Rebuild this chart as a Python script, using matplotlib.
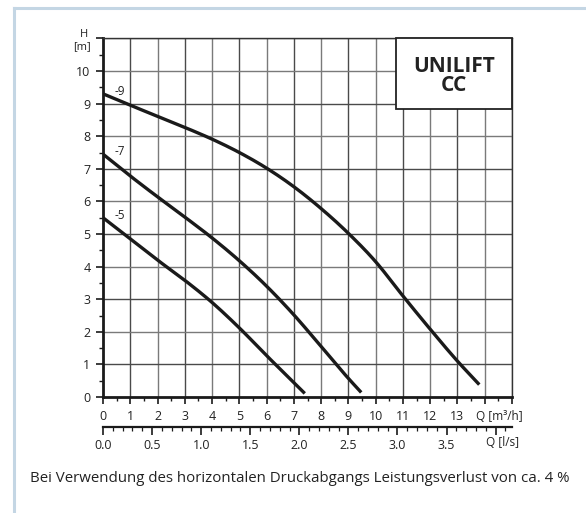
import matplotlib
matplotlib.use("Agg")
import matplotlib.pyplot as plt
from matplotlib.lines import Line2D
from matplotlib.patches import Rectangle
import numpy as np

plt.rcParams['font.family'] = ['Open Sans', 'DejaVu Sans']

# Data (Q in m3/h, H in m)
q_9 = [0, 1, 2, 3, 4, 5, 6, 7, 8, 9, 10, 11, 12, 13, 13.8]
h_9 = [9.3, 8.95, 8.61, 8.27, 7.91, 7.5, 7.02, 6.45, 5.78, 5.02, 4.15, 3.1, 2.08, 1.1, 0.38]
q_7 = [0, 1, 2, 3, 4, 5, 6, 7, 8, 9, 9.47]
h_7 = [7.45, 6.78, 6.14, 5.52, 4.88, 4.18, 3.4, 2.52, 1.55, 0.57, 0.14]
q_5 = [0, 1, 2, 3, 4, 5, 6, 7, 7.4]
h_5 = [5.5, 4.85, 4.2, 3.58, 2.9, 2.12, 1.27, 0.44, 0.11]
curves = [("-9", q_9, h_9), ("-7", q_7, h_7), ("-5", q_5, h_5)]

x_ticks = list(range(0, 16))
x_ticklabels = [str(i) for i in range(0, 14)] + ["", ""]
y_ticks = list(range(0, 12))
y_ticklabels = [str(i) for i in range(0, 11)] + [""]
ls_ticks = [0.0, 0.5, 1.0, 1.5, 2.0, 2.5, 3.0, 3.5, 4.0]
ls_ticklabels = ["0.0", "0.5", "1.0", "1.5", "2.0", "2.5", "3.0", "3.5", ""]

title = "UNILIFT\nCC"
footer = "Bei Verwendung des horizontalen Druckabgangs Leistungsverlust von ca. 4 %"


def smooth(x, y, n=20):
    """Cubic Hermite curve through the read points (for drawing only)."""
    x = np.asarray(x, float)
    y = np.asarray(y, float)
    d = np.diff(y) / np.diff(x)
    m = np.empty_like(y)
    m[0], m[-1] = d[0], d[-1]
    hx = np.diff(x)
    m[1:-1] = (d[:-1] * hx[1:] + d[1:] * hx[:-1]) / (hx[:-1] + hx[1:])
    xs, ys = [], []
    for i in range(len(x) - 1):
        t = np.linspace(0, 1, n, endpoint=False)
        h = hx[i]
        h00 = 2 * t**3 - 3 * t**2 + 1
        h10 = t**3 - 2 * t**2 + t
        h01 = -2 * t**3 + 3 * t**2
        h11 = t**3 - t**2
        xs.append(x[i] + t * h)
        ys.append(h00 * y[i] + h10 * h * m[i] + h01 * y[i + 1] + h11 * h * m[i + 1])
    xs.append([x[-1]])
    ys.append([y[-1]])
    return np.concatenate(xs), np.concatenate(ys)


W, H = 586, 513
fig = plt.figure(figsize=(W / 100, H / 100), dpi=100)

# light frame
fig.add_artist(Line2D([13.5 / W, 13.5 / W], [0, 1 - 7.5 / H], color='#c4d6e4', lw=2.2, transform=fig.transFigure))
fig.add_artist(Line2D([13.5 / W, 1], [1 - 7.5 / H, 1 - 7.5 / H], color='#c4d6e4', lw=2.2, transform=fig.transFigure))

ax_l, ax_r, ax_b, ax_t = 103, 512, 397, 38.4
ax = fig.add_axes([ax_l / W, 1 - ax_b / H, (ax_r - ax_l) / W, (ax_b - ax_t) / H])
ax.set_xlim(0, 15)
ax.set_ylim(0, 11)

# grid
for i in range(1, 16):
    ax.axvline(i, color='#4a4a4a' if i % 2 else '#7a7a7a', lw=1.0, zorder=1)
for j in range(1, 12):
    ax.axhline(j, color='#4a4a4a' if j % 2 else '#7a7a7a', lw=1.0, zorder=1)

for s in ['top', 'right']:
    ax.spines[s].set_color('#333333')
    ax.spines[s].set_linewidth(1.0)
ax.spines['left'].set_linewidth(2.0)
ax.spines['bottom'].set_linewidth(2.0)
ax.spines['left'].set_color('#1a1a1a')
ax.spines['bottom'].set_color('#1a1a1a')

ax.set_xticks(x_ticks)
ax.set_xticklabels(x_ticklabels)
ax.set_xticks(np.arange(0.5, 15, 1), minor=True)
ax.set_yticks(y_ticks)
ax.set_yticklabels(y_ticklabels)
ax.set_yticks(np.arange(0.5, 11, 1), minor=True)
ax.tick_params(axis='both', which='major', direction='out', length=5, width=1.2, color='#1a1a1a', labelsize=9, labelcolor='#222222', pad=4)
ax.tick_params(axis='both', which='minor', direction='out', length=3, width=1.0, color='#1a1a1a')

# curves
for lab, q, h in curves:
    sx, sy = smooth(q, h)
    ax.plot(sx, sy, color='#1a1a1a', lw=2.4, solid_capstyle='butt', zorder=3)
    ax.text(0.62, h[0] + 0.07, lab, fontsize=8.5, color='#222222', ha='center', va='center', zorder=4)

# title box
bx0, by0 = 10.73, 8.83
ax.add_patch(Rectangle((bx0, by0), 15 - bx0, 11 - by0, facecolor='white', edgecolor='#222222', lw=1.3, zorder=5, clip_on=False))
fig.text(454 / W, 1 - 76 / H, title, ha='center', va='center', fontsize=15, fontweight='bold',
         color='#222222', linespacing=0.85, zorder=6)

# axis labels
fig.text(84 / W, 1 - 35 / H, "H", ha='center', va='center', fontsize=8, color='#222222')
fig.text(82 / W, 1 - 47 / H, "[m]", ha='center', va='center', fontsize=8, color='#222222')
fig.text(499 / W, 1 - 416 / H, "Q [m\u00b3/h]", ha='center', va='center', fontsize=8.5, color='#222222')
fig.text(502 / W, 1 - 443 / H, "Q [l/s]", ha='center', va='center', fontsize=8.5, color='#222222')

# secondary l/s axis
sec = ax.secondary_xaxis((ax_b - 426.7) / (ax_b - ax_t), functions=(lambda x: x / 3.6, lambda x: x * 3.6))
sec.set_xticks(ls_ticks)
sec.set_xticklabels(ls_ticklabels)
sec.set_xticks(np.arange(0.0, 4.15, 0.1), minor=True)
sec.spines['bottom'].set_linewidth(1.6)
sec.spines['bottom'].set_color('#1a1a1a')
sec.tick_params(axis='x', which='major', direction='out', length=6, width=1.2, color='#1a1a1a', labelsize=9, labelcolor='#222222', pad=3)
sec.tick_params(axis='x', which='minor', direction='out', length=3, width=0.9, color='#1a1a1a')

fig.text(30 / W, 1 - 479 / H, footer, ha='left', va='center', fontsize=10.85, color='#222222')

fig.savefig("out.png", dpi=100)
